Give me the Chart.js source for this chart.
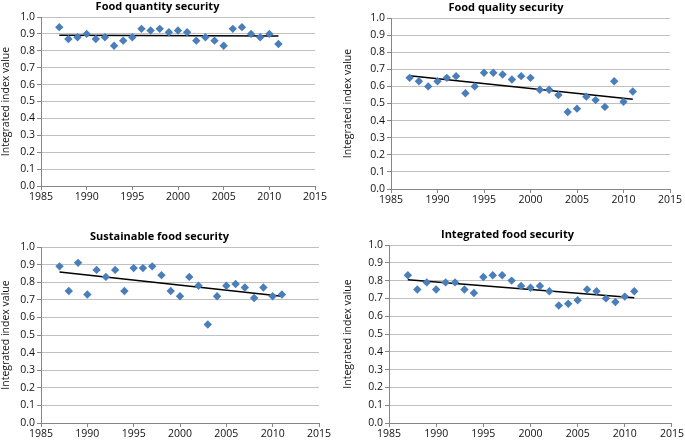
<!DOCTYPE html>
<html>
<head>
<meta charset="utf-8">
<script src="https://cdn.jsdelivr.net/npm/chart.js@4.4.1/dist/chart.umd.min.js"></script>
<style>
  html, body { margin: 0; padding: 0; background: #fff; }
  body { width: 685px; height: 441px; position: relative; overflow: hidden; }
  .panel { position: absolute; }
</style>
</head>
<body>
<div class="panel" style="left:0;top:0;width:342px;height:220px"><canvas id="c1"></canvas></div>
<div class="panel" style="left:342px;top:0;width:343px;height:220px"><canvas id="c2"></canvas></div>
<div class="panel" style="left:0;top:220px;width:342px;height:221px"><canvas id="c3"></canvas></div>
<div class="panel" style="left:342px;top:220px;width:343px;height:221px"><canvas id="c4"></canvas></div>
<script>
const years = [1987, 1988, 1989, 1990, 1991, 1992, 1993, 1994, 1995, 1996, 1997, 1998, 1999,
  2000, 2001, 2002, 2003, 2004, 2005, 2006, 2007, 2008, 2009, 2010, 2011]

const quantity = [0.94, 0.87, 0.88, 0.90, 0.87, 0.88, 0.83, 0.86, 0.88, 0.93, 0.92, 0.93, 0.91,
  0.92, 0.91, 0.86, 0.88, 0.86, 0.83, 0.93, 0.94, 0.90, 0.88, 0.90, 0.84]
const quality = [0.65, 0.63, 0.60, 0.63, 0.65, 0.66, 0.56, 0.60, 0.68, 0.68, 0.67, 0.64, 0.66,
  0.65, 0.58, 0.58, 0.55, 0.45, 0.47, 0.54, 0.52, 0.48, 0.63, 0.51, 0.57]
const sustainable = [0.89, 0.75, 0.91, 0.73, 0.87, 0.83, 0.87, 0.75, 0.88, 0.88, 0.89, 0.84, 0.75,
  0.72, 0.83, 0.78, 0.56, 0.72, 0.78, 0.79, 0.77, 0.71, 0.77, 0.72, 0.73]
const integrated = [0.83, 0.75, 0.79, 0.75, 0.79, 0.79, 0.75, 0.73, 0.82, 0.83, 0.83, 0.80, 0.77,
  0.76, 0.77, 0.74, 0.66, 0.67, 0.69, 0.75, 0.74, 0.70, 0.68, 0.71, 0.74]

const titles = ["Food quantity security", "Food quality security", "Sustainable food security", "Integrated food security"]
const yTitle = "Integrated index value"
const xTicks = [1985, 1990, 1995, 2000, 2005, 2010, 2015]
const yTicks = [0, 0.1, 0.2, 0.3, 0.4, 0.5, 0.6, 0.7, 0.8, 0.9, 1.0]

Chart.defaults.font.family = "'Open Sans', sans-serif"
Chart.defaults.font.size = 10.5
Chart.defaults.color = "#111"

// least squares trend line, like the excel linear trendline
function trend(xs, ys) {
  const n = xs.length
  let sx = 0, sy = 0, sxx = 0, sxy = 0
  for (let i = 0; i < n; i++) {
    sx += xs[i]; sy += ys[i]; sxx += xs[i] * xs[i]; sxy += xs[i] * ys[i]
  }
  const b = (n * sxy - sx * sy) / (n * sxx - sx * sx)
  const a = (sy - b * sx) / n
  const x0 = xs[0], x1 = xs[n - 1]
  return [{ x: x0, y: a + b * x0 }, { x: x1, y: a + b * x1 }]
}

// plot area of each panel inside its own box (left, top, right, bottom)
const areas = [
  { l: 41, t: 17, r: 315, b: 186, w: 342, h: 220 },
  { l: 49, t: 18, r: 328, b: 189, w: 343, h: 220 },
  { l: 41, t: 27, r: 319, b: 203, w: 342, h: 221 },
  { l: 47, t: 25, r: 331, b: 203, w: 343, h: 221 }
]

function makeChart(id, series, title, area) {
  const ctx = document.getElementById(id).getContext('2d')
  const pts = years.map((x, i) => ({ x: x, y: series[i] }))
  return new Chart(ctx, {
    type: "scatter",
    data: {
      datasets: [{
        data: pts,
        pointStyle: "rectRot",
        pointRadius: 4.2,
        pointHoverRadius: 4.2,
        backgroundColor: "#4a7ebb",
        borderColor: "#4a7ebb",
        borderWidth: 0
      }, {
        data: trend(years, series),
        showLine: true,
        pointRadius: 0,
        borderColor: "#000",
        borderWidth: 1.5
      }]
    },
    options: {
      responsive: true,
      maintainAspectRatio: false,
      animation: false,
      layout: { padding: { top: 0, left: 0, right: area.w - area.r, bottom: 0 } },
      plugins: {
        legend: { display: false },
        tooltip: { enabled: false },
        title: {
          display: true,
          text: title,
          color: "#000",
          font: { size: 11, weight: "bold" },
          padding: { top: area.t - 17, bottom: 17 - 13.2 }
        }
      },
      scales: {
        x: {
          type: "linear",
          min: 1985,
          max: 2015,
          afterBuildTicks: s => { s.ticks = xTicks.map(v => ({ value: v })) },
          afterFit: s => { s.height = area.h - area.b },
          ticks: { callback: v => String(v), padding: 1, maxRotation: 0 },
          grid: { drawOnChartArea: false, drawTicks: true, tickLength: 4, tickColor: "#868686" },
          border: { color: "#868686", width: 1 }
        },
        y: {
          min: 0,
          max: 1,
          afterBuildTicks: s => { s.ticks = yTicks.map(v => ({ value: v })) },
          afterFit: s => { s.width = area.l },
          ticks: { callback: v => v.toFixed(1), padding: 2 },
          grid: { color: "#c0c0c0", tickLength: 4, tickColor: "#868686" },
          border: { color: "#868686", width: 1 },
          title: { display: true, text: yTitle, color: "#111", font: { size: 10.5 }, padding: { top: 0, bottom: 2 } }
        }
      }
    }
  })
}

makeChart("c1", quantity, titles[0], areas[0])
makeChart("c2", quality, titles[1], areas[1])
makeChart("c3", sustainable, titles[2], areas[2])
makeChart("c4", integrated, titles[3], areas[3])
</script>
</body>
</html>
